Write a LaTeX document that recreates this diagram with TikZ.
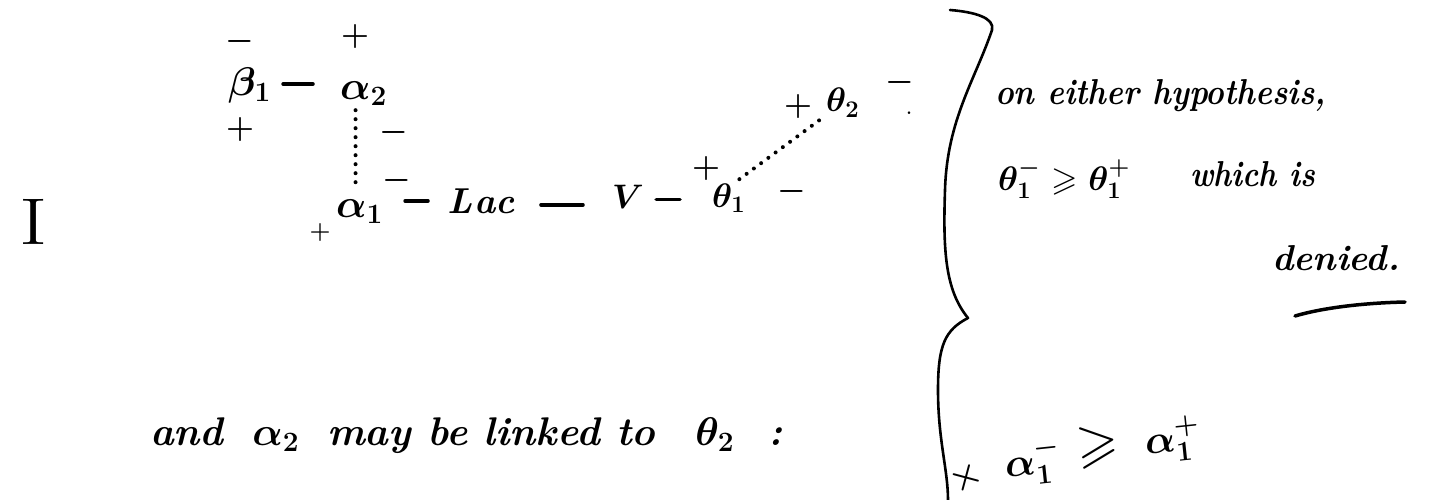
\RequirePackage{fix-cm}
\documentclass[tikz,border=0pt]{standalone}
\usepackage{fontspec}
\usepackage{amssymb}
\begin{document}
\begin{tikzpicture}[x=1pt,y=-1pt,
  ink/.style={line width=3pt, line cap=round, line join=round},
  bond/.style={line width=3.5pt, line cap=round},
  dots/.style={line width=4pt, line cap=round, dash pattern=on 0pt off 9pt},
  chem/.style={inner sep=0pt, anchor=base west, font=\boldmath\fontsize{40}{48}\selectfont},
  chemsm/.style={inner sep=0pt, anchor=base west, font=\boldmath\fontsize{34}{40}\selectfont},
  chg/.style={inner sep=0pt, font=\boldmath\fontsize{32}{36}\selectfont},
  hand/.style={inner sep=0pt, anchor=base west, font=\boldmath\bfseries\itshape\fontsize{36}{44}\selectfont},
  narrow/.style={transform shape, xscale=#1},
]
\useasboundingbox (0,0) rectangle (1438,500);

% Roman numeral
\node[inner sep=0pt, font=\fontsize{66}{70}\selectfont, narrow=1.3] (roman) at (34,222) {I};

% groups
\node[chem] (b1) at (228,96) {$\beta_1$};
\node[chem] (a2) at (340,100) {$\alpha_2$};
\node[chem] (a1) at (336,217) {$\alpha_1$};
\node[hand, font=\bfseries\itshape\fontsize{36}{40}\selectfont] (lac) at (447,213) {L\kern2pt ac};
\node[chemsm] (v) at (612,208) {$V$};
\node[chemsm] (t1) at (712,207) {$\theta_1$};
\node[chemsm] (t2) at (826,112) {$\theta_2$};

% charges
\node[chg] (b1m) at (240,42) {$-$};
\node[chg] (b1p) at (240,130) {$+$};
\node[chg] (a2p) at (355,37) {$+$};
\node[chg] (a2m) at (394,133) {$-$};
\node[chg] (a1m) at (397,180) {$-$};
\node[chg, font=\boldmath\fontsize{24}{30}\selectfont] (a1p) at (320,232) {$+$};
\node[chg] (t1p) at (706,169) {$+$};
\node[chg] (t1m) at (792,192) {$-$};
\node[chg] (t2p) at (798,107) {$+$};
\node[chg] (t2m) at (900,83) {$-$};
\node[chg, anchor=base] (t2d) at (909,115) {.};

% bonds
\draw[bond, shorten <=12pt, shorten >=27pt] ([yshift=2pt]b1.east) -- ([yshift=2pt]b1.east -| a2.west);
\draw[bond, shorten <=22pt, shorten >=19pt] (lac.west -| a1.east) -- (lac.west);
\draw[bond, shorten <=26pt, shorten >=29pt] ([yshift=-4pt]lac.east) -- ([yshift=-4pt]lac.east -| v.west);
\draw[bond, shorten <=12pt, shorten >=32pt] ([yshift=-3pt]v.east) -- ([yshift=-3pt]v.east -| t1.west);

% dotted links
\draw[dots, shorten <=4pt, shorten >=15pt] ([xshift=-8pt]a2.south) -- ([xshift=-8pt]a2.south |- a1.north);
\draw[dots] ([xshift=-6pt,yshift=4pt]t1.north east) -- ([yshift=2pt]t2.south west);

% brace
\draw[ink, line width=2.6pt] (950,10) .. controls (975,12) and (995,18) .. (992,30)
  .. controls (975,80) and (947,120) .. (945,190)
  .. controls (943,250) and (945,290) .. (968,318)
  .. controls (945,330) and (938,345) .. (938,390)
  .. controls (938,440) and (948,470) .. (948,500);

% right-hand text
\node[hand, narrow=0.88] (hyp) at (995,105) {on either hypothesis,};
\node[chemsm] (ineq1) at (998,190) {$\theta_1^{-} \geqslant \theta_1^{+}$};
\node[hand, narrow=0.85] (which) at (1190,186) {which is};
\node[hand] (den) at (1272,270) {denied.};
\draw[ink, line width=3.5pt] ([xshift=23pt,yshift=-46pt]den.base west) .. controls ([xshift=50pt,yshift=-38pt]den.base west) and ([xshift=90pt,yshift=-33pt]den.base west) .. ([xshift=133pt,yshift=-32pt]den.base west);

\node[chg, font=\boldmath\fontsize{36}{40}\selectfont, rotate=-15] (star) at (966,478) {$+$};
\node[chem, rotate=6] (lhs2) at (1006,478) {$\alpha_1^{-}$};
\node[chem, anchor=center, font=\boldmath\fontsize{54}{60}\selectfont, rotate=6] (ge2) at (1098,447) {$\geqslant$};
\node[chem, rotate=6] (rhs2) at (1146,455) {$\alpha_1^{+}$};

% bottom sentence
\node[hand, font=\bfseries\itshape\boldmath\fontsize{40}{44}\selectfont] (sent) at (150,445) {and\hspace{29pt}$\alpha_2$\hspace{28pt}may be\hspace{16pt}linked to\hspace{40pt}$\theta_2$\hspace{34pt}:};
\end{tikzpicture}
\end{document}
